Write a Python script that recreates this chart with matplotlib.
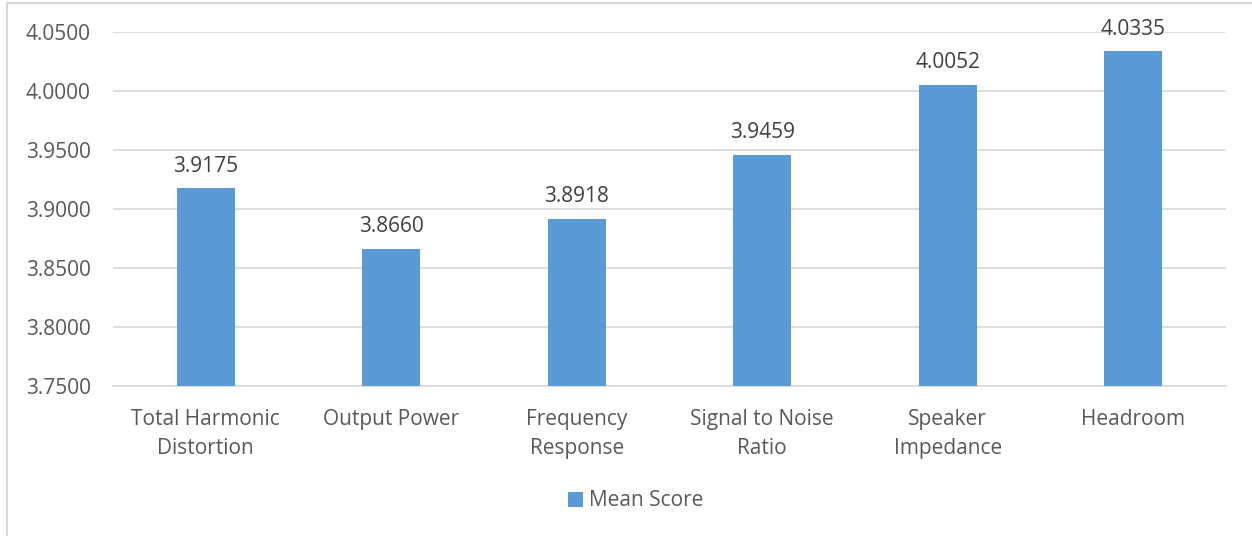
import matplotlib.pyplot as plt
from matplotlib.patches import Rectangle

# data
categories = ['Total Harmonic\nDistortion', 'Output Power', 'Frequency\nResponse',
              'Signal to Noise\nRatio', 'Speaker\nImpedance', 'Headroom']
mean_scores = [3.9175, 3.8660, 3.8918, 3.9459, 4.0052, 4.0335]
y_ticks = [3.75, 3.80, 3.85, 3.90, 3.95, 4.00, 4.05]

bar_color = '#5B9BD5'
text_color = '#595959'
grid_color = '#D9D9D9'

plt.rcParams['font.family'] = ['Open Sans', 'DejaVu Sans']

fig = plt.figure(figsize=(12.52, 5.36), dpi=100)
ax = fig.add_axes([113 / 1252, 1 - 386 / 536, (1226 - 113) / 1252, (386 - 32) / 536])

x = range(len(categories))
bars = ax.bar(x, mean_scores, width=0.31, color=bar_color, zorder=3, label='Mean Score')

for xi, v in zip(x, mean_scores):
    ax.annotate(f'{v:.4f}', (xi, v), xytext=(0, 12), textcoords='offset points',
                ha='center', va='baseline', fontsize=15, color='#404040')

ax.set_xlim(-0.5, len(categories) - 0.5)
ax.set_ylim(3.75, 4.05)
ax.set_yticks(y_ticks)
ax.set_yticklabels([f'{t:.4f}' for t in y_ticks])
ax.set_xticks(list(x))
ax.set_xticklabels(categories, linespacing=1.5)
ax.tick_params(axis='both', length=0, labelsize=15, labelcolor=text_color)
ax.tick_params(axis='y', pad=16)
ax.tick_params(axis='x', pad=16.5)

ax.grid(axis='y', color=grid_color, linewidth=1.2, zorder=0)
for s in ['top', 'right', 'left']:
    ax.spines[s].set_visible(False)
ax.spines['bottom'].set_color(grid_color)
ax.spines['bottom'].set_linewidth(1.2)

# legend below the axes
fig.legend(handles=[bars], labels=['Mean Score'], loc='center',
           bbox_to_anchor=(636 / 1252, 1 - 501 / 536),
           frameon=False, fontsize=15, labelcolor=text_color, handlelength=0.7,
           handleheight=0.7, handletextpad=0.3)

# outer chart frame (partially cropped in the reference)
fig.patches.append(Rectangle((7 / 1252, -0.1), 1.2, 1 - 3 / 536 + 0.1, transform=fig.transFigure,
                             fill=False, edgecolor='#D9D9D9', linewidth=1.5))

fig.savefig('out.png', dpi=100)
